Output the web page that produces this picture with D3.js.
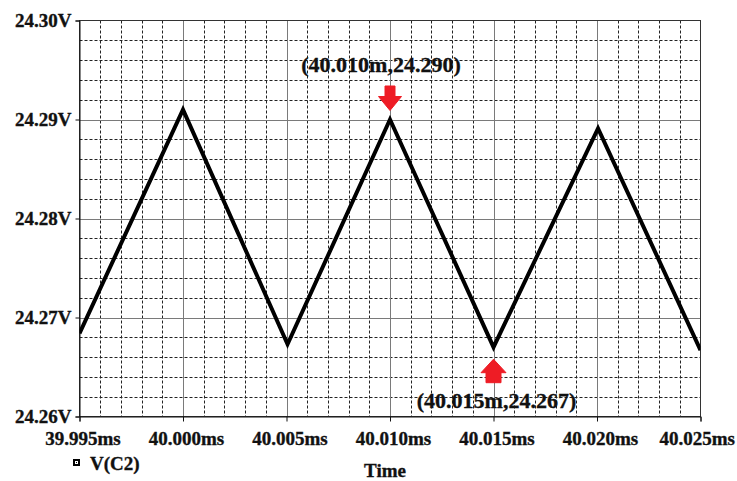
<!DOCTYPE html>
<html>
<head>
<meta charset="utf-8">
<script src="https://cdn.jsdelivr.net/npm/d3@7"></script>
<style>
  html, body { margin: 0; padding: 0; background: #fff; }
  svg { display: block; }
  text { font-family: "Liberation Serif", "Times New Roman", serif; font-weight: bold; fill: #111; stroke: #111; stroke-width: 0.35px; }
</style>
</head>
<body>
<svg id="chart" width="737" height="481"></svg>
<script>
// Capacitor voltage V(C2): sampled corner points of the ripple waveform
const times = [39.9950, 40.0000, 40.00505, 40.0100, 40.0150, 40.02005, 40.0250]; // ms
const volts = [24.2684, 24.2910, 24.2673, 24.2900, 24.2670, 24.2891, 24.2667];   // V

// Axis ticks
const xTicks = [39.995, 40.000, 40.005, 40.010, 40.015, 40.020, 40.025];
const xTickLabels = ["39.995ms", "40.000ms", "40.005ms", "40.010ms", "40.015ms", "40.020ms", "40.025ms"];
const yTicks = [24.26, 24.27, 24.28, 24.29, 24.30];
const yTickLabels = ["24.26V", "24.27V", "24.28V", "24.29V", "24.30V"];

// Cursor annotations
const markers = [
  { t: 40.010, v: 24.290, label: "(40.010m,24.290)", dir: "down" },
  { t: 40.015, v: 24.267, label: "(40.015m,24.267)", dir: "up" }
];

const svg = d3.select("#chart");
const L = 79.5, R = 700.5, T = 20.5, B = 416.5;

const x = d3.scaleLinear().domain([39.995, 40.025]).range([L, R]);
const y = d3.scaleLinear().domain([24.26, 24.30]).range([B, T]);

// Minor dashed grid (5 divisions per major step)
const minorX = d3.range(0, 31).map(i => 39.995 + i * 0.001).filter((d, i) => i % 5 !== 0);
const minorY = d3.range(0, 21).map(i => 24.26 + i * 0.002).filter((d, i) => i % 5 !== 0);

const grid = svg.append("g");
grid.selectAll("line.mx").data(minorX).join("line")
  .attr("x1", d => Math.round(x(d)) + 0.5).attr("x2", d => Math.round(x(d)) + 0.5)
  .attr("y1", T).attr("y2", B)
  .attr("stroke", "#222").attr("stroke-width", 1).attr("stroke-dasharray", "3,2");
grid.selectAll("line.my").data(minorY).join("line")
  .attr("y1", d => Math.round(y(d)) + 0.5).attr("y2", d => Math.round(y(d)) + 0.5)
  .attr("x1", L).attr("x2", R)
  .attr("stroke", "#222").attr("stroke-width", 1).attr("stroke-dasharray", "3,2");

// Major solid grid
grid.selectAll("line.MX").data(xTicks.slice(1, -1)).join("line")
  .attr("x1", d => Math.round(x(d)) + 0.5).attr("x2", d => Math.round(x(d)) + 0.5)
  .attr("y1", T).attr("y2", B)
  .attr("stroke", "#7a7a7a").attr("stroke-width", 1);
grid.selectAll("line.MY").data(yTicks.slice(1, -1)).join("line")
  .attr("y1", d => Math.round(y(d)) + 0.5).attr("y2", d => Math.round(y(d)) + 0.5)
  .attr("x1", L).attr("x2", R)
  .attr("stroke", "#7a7a7a").attr("stroke-width", 1);

// Frame
svg.append("rect").attr("x", L).attr("y", T).attr("width", R - L).attr("height", B - T)
  .attr("fill", "none").attr("stroke", "#333").attr("stroke-width", 1);

// Axes
const xAxis = d3.axisBottom(x).tickValues(xTicks).tickSize(5).tickFormat((d, i) => xTickLabels[i]);
const gx = svg.append("g").attr("transform", `translate(0,${B})`).call(xAxis);
gx.select(".domain").attr("stroke", "#111");
gx.selectAll(".tick line").attr("stroke", "#111");
gx.selectAll(".tick text")
  .attr("font-size", 19).attr("font-family", null).attr("fill", "#111")
  .attr("y", 28.5).attr("dy", 0).attr("dx", 3)
  .filter((d, i) => i === xTicks.length - 1)
  .attr("text-anchor", "end").attr("dx", 34);

const yAxis = d3.axisLeft(y).tickValues(yTicks).tickSize(4).tickFormat((d, i) => yTickLabels[i]);
const gy = svg.append("g").attr("transform", `translate(${L},0)`).call(yAxis);
gy.select(".domain").attr("stroke", "#111");
gy.selectAll(".tick line").attr("stroke", "#111");
gy.selectAll(".tick text")
  .attr("font-size", 19).attr("font-family", null).attr("fill", "#111")
  .attr("x", -8).attr("dy", 6);

// Waveform
const data = times.map((t, i) => ({ t, v: volts[i] }));
svg.append("clipPath").attr("id", "plotclip")
  .append("rect").attr("x", L).attr("y", T).attr("width", R - L).attr("height", B - T);
svg.append("path").datum(data)
  .attr("clip-path", "url(#plotclip)")
  .attr("d", d3.line().x(d => x(d.t)).y(d => y(d.v)))
  .attr("fill", "none").attr("stroke", "#000").attr("stroke-width", 4)
  .attr("stroke-linejoin", "miter");

// Cursor arrows and labels
const red = "#ee1c25";
markers.forEach(m => {
  const px = x(m.t), py = y(m.v);
  let p;
  if (m.dir === "down") {
    const tip = py - 9;
    p = `M${px},${tip} L${px - 11.5},${tip - 14} L${px - 5},${tip - 14} L${px - 5},${tip - 24.5}
         L${px + 5},${tip - 24.5} L${px + 5},${tip - 14} L${px + 11.5},${tip - 14} Z`;
    svg.append("text").attr("x", px - 9).attr("y", tip - 39).attr("text-anchor", "middle")
      .attr("font-size", 22).text(m.label);
  } else {
    const tip = py + 12;
    p = `M${px},${tip} L${px - 12.5},${tip + 13.5} L${px - 7.5},${tip + 13.5} L${px - 7.5},${tip + 23.5}
         L${px + 7.5},${tip + 23.5} L${px + 7.5},${tip + 13.5} L${px + 12.5},${tip + 13.5} Z`;
    svg.append("text").attr("x", px + 3).attr("y", tip + 48.5).attr("text-anchor", "middle")
      .attr("font-size", 22).text(m.label);
  }
  svg.append("path").attr("d", p).attr("fill", red).attr("stroke", red)
    .attr("stroke-width", 1).attr("stroke-linejoin", "round");
});

// Legend
const lg = svg.append("g").attr("transform", "translate(73,459)");
lg.append("rect").attr("width", 7).attr("height", 7).attr("fill", "#000");
lg.append("rect").attr("x", 2).attr("y", 2).attr("width", 3).attr("height", 3).attr("fill", "#fff");
lg.append("rect").attr("x", 3).attr("y", 3).attr("width", 1).attr("height", 1).attr("fill", "#000");
svg.append("text").attr("x", 90).attr("y", 470).attr("font-size", 19).text("V(C2)");

// Axis title
svg.append("text").attr("x", 385).attr("y", 476.5).attr("text-anchor", "middle")
  .attr("font-size", 19).text("Time");
</script>
</body>
</html>
